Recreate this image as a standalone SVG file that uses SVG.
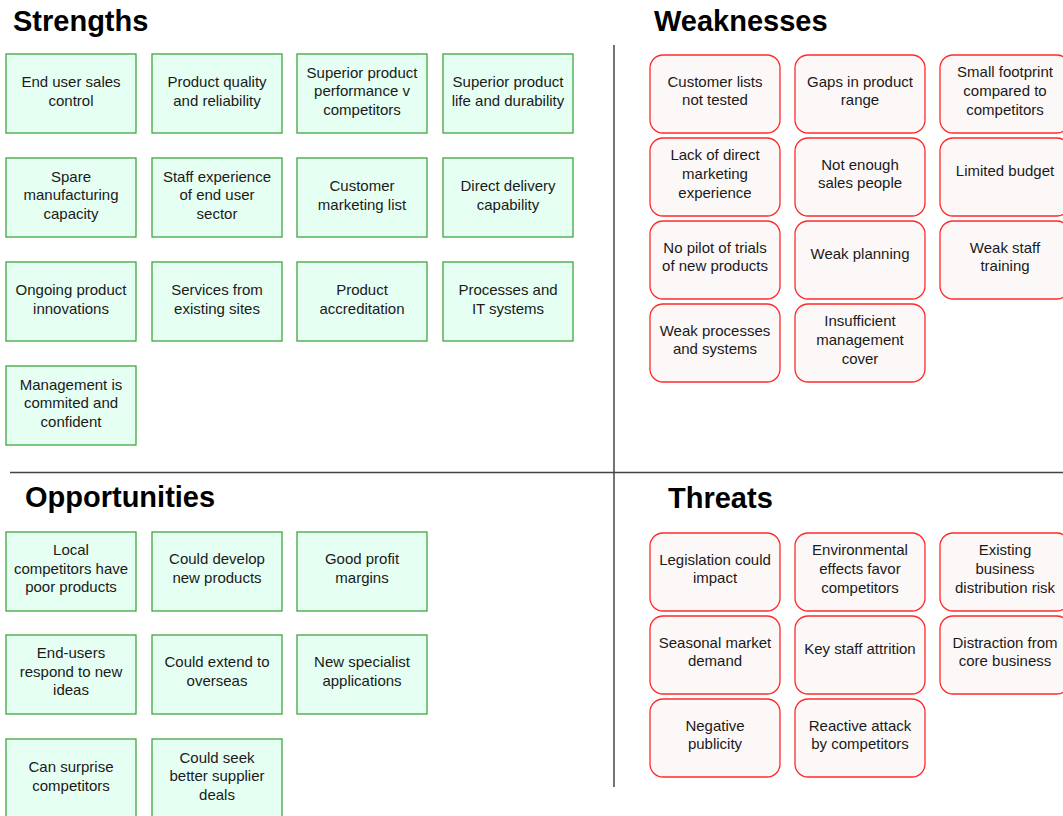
<svg xmlns="http://www.w3.org/2000/svg" width="1063" height="816" viewBox="0 0 1063 816">
<style>
.bg{fill:#ffffff}
.title{font-family:"Liberation Sans",Arial,sans-serif;font-size:29px;font-weight:bold;fill:#000}
.g rect{fill:#e6fff3;stroke:#3fa63f;stroke-width:1.3}
.r rect{fill:#fdf8f8;stroke:#ff2a2a;stroke-width:1.3}
.t{font-family:"Liberation Sans",Arial,sans-serif;font-size:15px;fill:#1a1a1a;text-anchor:middle}
.div{stroke:#444;stroke-width:1.5;fill:none}
</style>
<rect class="bg" x="0" y="0" width="1063" height="816"/>
<text class="title" x="13" y="31">Strengths</text>
<text class="title" x="654" y="31">Weaknesses</text>
<text class="title" x="25" y="507">Opportunities</text>
<text class="title" x="668" y="508">Threats</text>
<g id="connectors">
<line class="div" x1="614" y1="45" x2="614" y2="787"/>
<line class="div" x1="10" y1="472.5" x2="1063" y2="472.5"/>
</g>
<!-- Strengths -->
<g id="s1" class="g"><rect x="6" y="54" width="130" height="79"/><text class="t"><tspan x="71" y="87">End user sales</tspan><tspan x="71" y="105.7">control</tspan></text></g>
<g id="s2" class="g"><rect x="152" y="54" width="130" height="79"/><text class="t"><tspan x="217" y="87">Product quality</tspan><tspan x="217" y="105.7">and reliability</tspan></text></g>
<g id="s3" class="g"><rect x="297" y="54" width="130" height="79"/><text class="t"><tspan x="362" y="77.6">Superior product</tspan><tspan x="362" y="96.3">performance v</tspan><tspan x="362" y="115">competitors</tspan></text></g>
<g id="s4" class="g"><rect x="443" y="54" width="130" height="79"/><text class="t"><tspan x="508" y="87">Superior product</tspan><tspan x="508" y="105.7">life and durability</tspan></text></g>
<g id="s5" class="g"><rect x="6" y="158" width="130" height="79"/><text class="t"><tspan x="71" y="181.6">Spare</tspan><tspan x="71" y="200.3">manufacturing</tspan><tspan x="71" y="219">capacity</tspan></text></g>
<g id="s6" class="g"><rect x="152" y="158" width="130" height="79"/><text class="t"><tspan x="217" y="181.6">Staff experience</tspan><tspan x="217" y="200.3">of end user</tspan><tspan x="217" y="219">sector</tspan></text></g>
<g id="s7" class="g"><rect x="297" y="158" width="130" height="79"/><text class="t"><tspan x="362" y="191">Customer</tspan><tspan x="362" y="209.7">marketing list</tspan></text></g>
<g id="s8" class="g"><rect x="443" y="158" width="130" height="79"/><text class="t"><tspan x="508" y="191">Direct delivery</tspan><tspan x="508" y="209.7">capability</tspan></text></g>
<g id="s9" class="g"><rect x="6" y="262" width="130" height="79"/><text class="t"><tspan x="71" y="295">Ongoing product</tspan><tspan x="71" y="313.7">innovations</tspan></text></g>
<g id="s10" class="g"><rect x="152" y="262" width="130" height="79"/><text class="t"><tspan x="217" y="295">Services from</tspan><tspan x="217" y="313.7">existing sites</tspan></text></g>
<g id="s11" class="g"><rect x="297" y="262" width="130" height="79"/><text class="t"><tspan x="362" y="295">Product</tspan><tspan x="362" y="313.7">accreditation</tspan></text></g>
<g id="s12" class="g"><rect x="443" y="262" width="130" height="79"/><text class="t"><tspan x="508" y="295">Processes and</tspan><tspan x="508" y="313.7">IT systems</tspan></text></g>
<g id="s13" class="g"><rect x="6" y="366" width="130" height="79"/><text class="t"><tspan x="71" y="389.6">Management is</tspan><tspan x="71" y="408.3">commited and</tspan><tspan x="71" y="427">confident</tspan></text></g>
<!-- Weaknesses -->
<g id="w1" class="r"><rect x="650" y="55" width="130" height="78" rx="13"/><text class="t"><tspan x="715" y="86.7">Customer lists</tspan><tspan x="715" y="105.4">not tested</tspan></text></g>
<g id="w2" class="r"><rect x="795" y="55" width="130" height="78" rx="13"/><text class="t"><tspan x="860" y="86.7">Gaps in product</tspan><tspan x="860" y="105.4">range</tspan></text></g>
<g id="w3" class="r"><rect x="940" y="55" width="130" height="78" rx="13"/><text class="t"><tspan x="1005" y="77.3">Small footprint</tspan><tspan x="1005" y="96">compared to</tspan><tspan x="1005" y="114.7">competitors</tspan></text></g>
<g id="w4" class="r"><rect x="650" y="138" width="130" height="78" rx="13"/><text class="t"><tspan x="715" y="160.3">Lack of direct</tspan><tspan x="715" y="179">marketing</tspan><tspan x="715" y="197.7">experience</tspan></text></g>
<g id="w5" class="r"><rect x="795" y="138" width="130" height="78" rx="13"/><text class="t"><tspan x="860" y="169.7">Not enough</tspan><tspan x="860" y="188.4">sales people</tspan></text></g>
<g id="w6" class="r"><rect x="940" y="138" width="130" height="78" rx="13"/><text class="t"><tspan x="1005" y="176">Limited budget</tspan></text></g>
<g id="w7" class="r"><rect x="650" y="221" width="130" height="78" rx="13"/><text class="t"><tspan x="715" y="252.7">No pilot of trials</tspan><tspan x="715" y="271.4">of new products</tspan></text></g>
<g id="w8" class="r"><rect x="795" y="221" width="130" height="78" rx="13"/><text class="t"><tspan x="860" y="259">Weak planning</tspan></text></g>
<g id="w9" class="r"><rect x="940" y="221" width="130" height="78" rx="13"/><text class="t"><tspan x="1005" y="252.7">Weak staff</tspan><tspan x="1005" y="271.4">training</tspan></text></g>
<g id="w10" class="r"><rect x="650" y="304" width="130" height="78" rx="13"/><text class="t"><tspan x="715" y="335.7">Weak processes</tspan><tspan x="715" y="354.4">and systems</tspan></text></g>
<g id="w11" class="r"><rect x="795" y="304" width="130" height="78" rx="13"/><text class="t"><tspan x="860" y="326.3">Insufficient</tspan><tspan x="860" y="345">management</tspan><tspan x="860" y="363.7">cover</tspan></text></g>
<!-- Opportunities -->
<g id="o1" class="g"><rect x="6" y="532" width="130" height="79"/><text class="t"><tspan x="71" y="555">Local</tspan><tspan x="71" y="573.5">competitors have</tspan><tspan x="71" y="592">poor products</tspan></text></g>
<g id="o2" class="g"><rect x="152" y="532" width="130" height="79"/><text class="t"><tspan x="217" y="564.3">Could develop</tspan><tspan x="217" y="582.8">new products</tspan></text></g>
<g id="o3" class="g"><rect x="297" y="532" width="130" height="79"/><text class="t"><tspan x="362" y="564.3">Good profit</tspan><tspan x="362" y="582.8">margins</tspan></text></g>
<g id="o4" class="g"><rect x="6" y="635" width="130" height="79"/><text class="t"><tspan x="71" y="658">End-users</tspan><tspan x="71" y="676.5">respond to new</tspan><tspan x="71" y="695">ideas</tspan></text></g>
<g id="o5" class="g"><rect x="152" y="635" width="130" height="79"/><text class="t"><tspan x="217" y="667.3">Could extend to</tspan><tspan x="217" y="685.8">overseas</tspan></text></g>
<g id="o6" class="g"><rect x="297" y="635" width="130" height="79"/><text class="t"><tspan x="362" y="667.3">New specialist</tspan><tspan x="362" y="685.8">applications</tspan></text></g>
<g id="o7" class="g"><rect x="6" y="739" width="130" height="79"/><text class="t"><tspan x="71" y="772.3">Can surprise</tspan><tspan x="71" y="790.8">competitors</tspan></text></g>
<g id="o8" class="g"><rect x="152" y="739" width="130" height="79"/><text class="t"><tspan x="217" y="762.5">Could seek</tspan><tspan x="217" y="781">better supplier</tspan><tspan x="217" y="799.5">deals</tspan></text></g>
<!-- Threats -->
<g id="t1" class="r"><rect x="650" y="533" width="130" height="78" rx="13"/><text class="t"><tspan x="715" y="564.7">Legislation could</tspan><tspan x="715" y="583.4">impact</tspan></text></g>
<g id="t2" class="r"><rect x="795" y="533" width="130" height="78" rx="13"/><text class="t"><tspan x="860" y="555.3">Environmental</tspan><tspan x="860" y="574">effects favor</tspan><tspan x="860" y="592.7">competitors</tspan></text></g>
<g id="t3" class="r"><rect x="940" y="533" width="130" height="78" rx="13"/><text class="t"><tspan x="1005" y="555.3">Existing</tspan><tspan x="1005" y="574">business</tspan><tspan x="1005" y="592.7">distribution risk</tspan></text></g>
<g id="t4" class="r"><rect x="650" y="616" width="130" height="78" rx="13"/><text class="t"><tspan x="715" y="647.7">Seasonal market</tspan><tspan x="715" y="666.4">demand</tspan></text></g>
<g id="t5" class="r"><rect x="795" y="616" width="130" height="78" rx="13"/><text class="t"><tspan x="860" y="654">Key staff attrition</tspan></text></g>
<g id="t6" class="r"><rect x="940" y="616" width="130" height="78" rx="13"/><text class="t"><tspan x="1005" y="647.7">Distraction from</tspan><tspan x="1005" y="666.4">core business</tspan></text></g>
<g id="t7" class="r"><rect x="650" y="699" width="130" height="78" rx="13"/><text class="t"><tspan x="715" y="730.7">Negative</tspan><tspan x="715" y="749.4">publicity</tspan></text></g>
<g id="t8" class="r"><rect x="795" y="699" width="130" height="78" rx="13"/><text class="t"><tspan x="860" y="730.7">Reactive attack</tspan><tspan x="860" y="749.4">by competitors</tspan></text></g>
</svg>
